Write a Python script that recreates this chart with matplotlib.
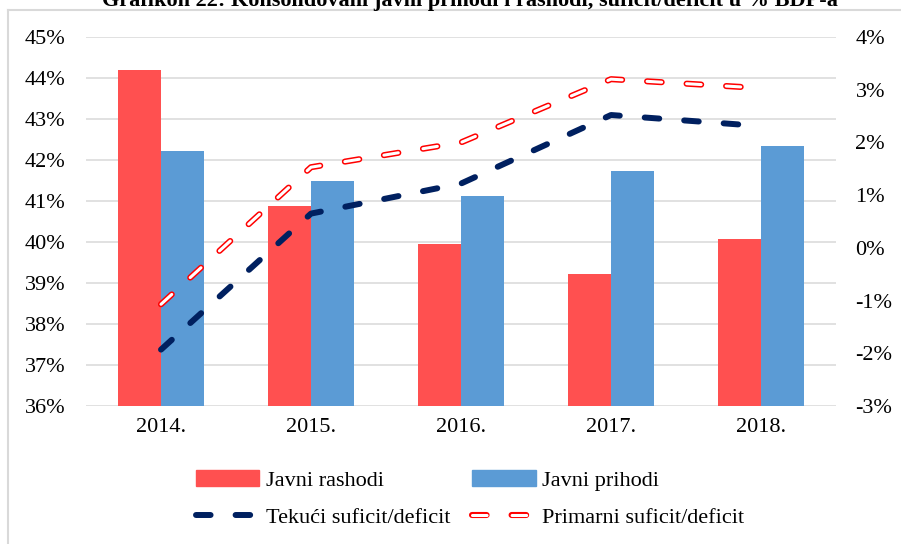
import matplotlib
matplotlib.use('Agg')
import matplotlib.pyplot as plt
import numpy as np
from matplotlib.lines import Line2D
from matplotlib.patches import Patch
from matplotlib.legend_handler import HandlerTuple

plt.rcParams['font.family'] = ['Liberation Serif', 'DejaVu Serif']
plt.rcParams['lines.scale_dashes'] = False

# Podaci (% BDP-a)
godine = ['2014.', '2015.', '2016.', '2017.', '2018.']
javni_rashodi = [44.2, 40.88, 39.95, 39.22, 40.07]
javni_prihodi = [42.22, 41.5, 41.13, 41.72, 42.35]
tekuci_saldo = [-1.93, 0.65, 1.22, 2.52, 2.31]
primarni_saldo = [-1.07, 1.53, 2.0, 3.2, 3.03]

lijeve_oznake = [36, 37, 38, 39, 40, 41, 42, 43, 44, 45]
desne_oznake = [-3, -2, -1, 0, 1, 2, 3, 4]

crvena = '#FF5050'
plava = '#5B9BD5'
tamno_plava = '#002060'
siva = '#D9D9D9'

fig = plt.figure(figsize=(9.01, 5.44), dpi=100)
ax = fig.add_axes([86 / 901, 1 - 406 / 544, 750 / 901, 369 / 544])

x = np.arange(len(godine))
w = 0.287
ax.bar(x - w / 2, javni_rashodi, width=w, color=crvena, zorder=2)
ax.bar(x + w / 2, javni_prihodi, width=w, color=plava, zorder=2)

ax.set_xlim(-0.5, len(godine) - 0.5)
ax.set_ylim(36, 45)
ax.set_yticks(lijeve_oznake)
ax.set_yticklabels([f'{v}%' for v in lijeve_oznake])
ax.set_xticks(x)
ax.set_xticklabels(godine)
ax.grid(axis='y', color=siva, linewidth=1.1, zorder=0)
ax.set_axisbelow(True)
for s in ax.spines.values():
    s.set_visible(False)
ax.tick_params(axis='both', length=0, labelsize=16)
ax.tick_params(axis='y', pad=15)
ax.tick_params(axis='x', pad=9)

ax2 = ax.twinx()
ax2.set_ylim(-3, 4)
ax2.set_yticks(desne_oznake)
ax2.set_yticklabels([f'{v}%' for v in desne_oznake])
for s in ax2.spines.values():
    s.set_visible(False)
ax2.tick_params(axis='y', length=0, labelsize=16, pad=14)

crtice = (0, (10.5, 18))
ax2.plot(x, tekuci_saldo, color=tamno_plava, linewidth=4.3, linestyle=crtice,
         dash_capstyle='round', solid_joinstyle='round', zorder=3)
ax2.plot(x, primarni_saldo, color='red', linewidth=4.4, linestyle=crtice,
         dash_capstyle='round', zorder=3)
ax2.plot(x, primarni_saldo, color='white', linewidth=2.2, linestyle=crtice,
         dash_capstyle='round', zorder=4)

# Legenda
h_rashodi = Patch(color=crvena)
h_prihodi = Patch(color=plava)
h_tekuci = Line2D([], [], color=tamno_plava, linewidth=4.3, linestyle=crtice,
                  dash_capstyle='round')
h_prim_a = Line2D([], [], color='red', linewidth=4.4, linestyle=crtice,
                  dash_capstyle='round')
h_prim_b = Line2D([], [], color='white', linewidth=2.2, linestyle=crtice,
                  dash_capstyle='round')
fig.legend([h_rashodi, h_tekuci, h_prihodi, (h_prim_a, h_prim_b)],
           ['Javni rashodi', 'Tekući suficit/deficit', 'Javni prihodi', 'Primarni suficit/deficit'],
           handler_map={tuple: HandlerTuple(ndivide=1)},
           ncol=2, loc='center', bbox_to_anchor=(470 / 901, 1 - 499 / 544),
           frameon=False, fontsize=16, handlelength=2.85, handletextpad=0.3,
           columnspacing=1.0, labelspacing=0.75)

# Okvir i naslov
fig.add_artist(Line2D([8 / 901, 8 / 901], [0, 1 - 10 / 544], color=siva, linewidth=1.5))
fig.add_artist(Line2D([8 / 901, 1], [1 - 10 / 544, 1 - 10 / 544], color=siva, linewidth=1.5))
fig.text(470 / 901, 1 - 6 / 544,
         'Grafikon 22: Konsolidovani javni prihodi i rashodi, suficit/deficit u % BDP-a',
         ha='center', va='baseline', fontsize=16, fontweight='bold')

fig.savefig('out.png', dpi=100)
